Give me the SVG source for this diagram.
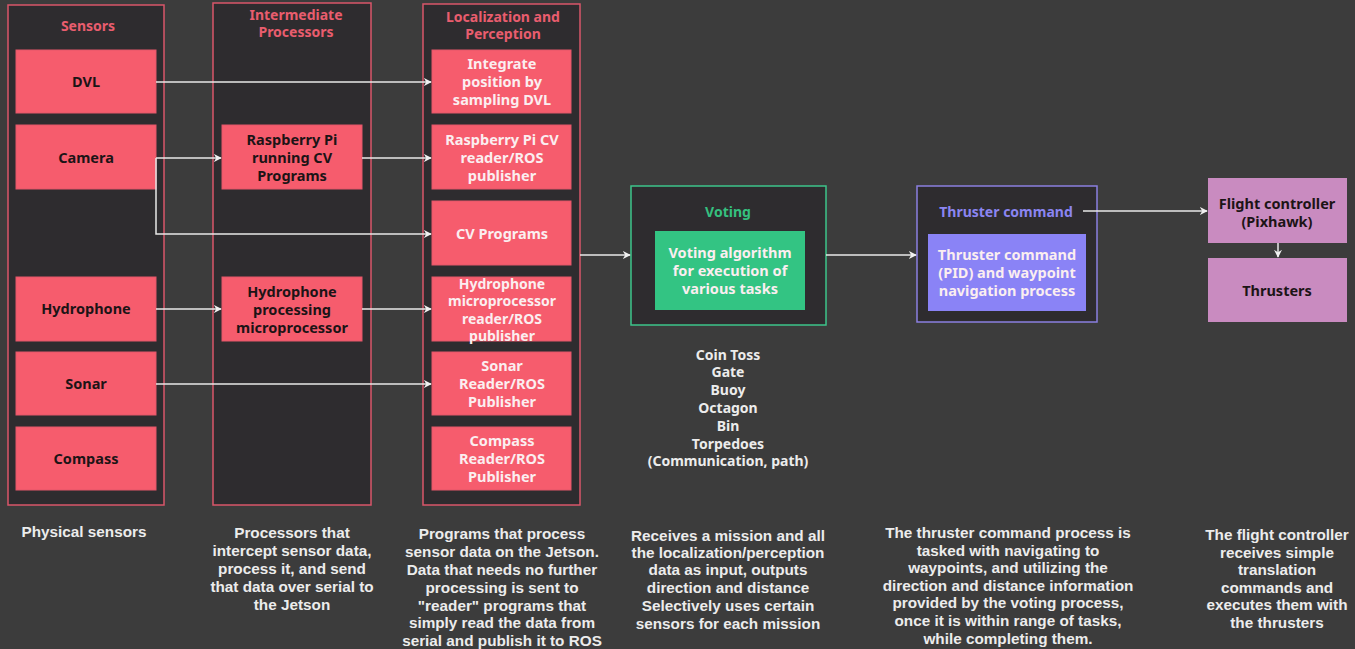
<svg xmlns="http://www.w3.org/2000/svg" width="1355" height="649" viewBox="0 0 1355 649">
<defs>
<style>
.bg{fill:#3c3c3c}
.col{fill:#2e2c2f;stroke:#d9566a;stroke-width:1.5}
.pk{fill:#f65c6d;stroke:#e4566a;stroke-width:1}
.ttl{font-family:"Noto Sans","Liberation Sans",sans-serif;font-weight:700;font-size:14px;text-anchor:middle;fill:#e95d6e}
.dk{font-family:"Noto Sans","Liberation Sans",sans-serif;font-weight:700;font-size:14.5px;text-anchor:middle;fill:#1c1416}
.wt{font-family:"Noto Sans","Liberation Sans",sans-serif;font-weight:700;font-size:14.5px;text-anchor:middle;fill:#fbeef0}
.wt4{font-family:"Noto Sans","Liberation Sans",sans-serif;font-weight:700;font-size:14px;text-anchor:middle;fill:#fbeef0}
.desc{font-family:"Liberation Sans",sans-serif;font-weight:700;font-size:15.3px;text-anchor:middle;fill:#ececec}
.list{font-family:"Noto Sans","Liberation Sans",sans-serif;font-weight:700;font-size:14px;text-anchor:middle;fill:#ececec}
.cn{fill:none;stroke:#e8e8e8;stroke-width:1.5}
</style>
<marker id="ah" viewBox="0 0 10 10" refX="9" refY="5" markerWidth="8" markerHeight="8" markerUnits="userSpaceOnUse" orient="auto">
<path d="M0,0 L10,5 L0,10 L3,5 z" fill="#f0f0f0"/>
</marker>
</defs>
<rect class="bg" x="0" y="0" width="1355" height="649"/>

<g id="sensors">
<rect class="col" x="8" y="5" width="156" height="500"/>
<text class="ttl" x="88" y="31">Sensors</text>
</g>
<g id="dvl"><rect class="pk" x="16" y="50" width="140" height="63"/><text class="dk" x="86" y="87">DVL</text></g>
<g id="camera"><rect class="pk" x="16" y="125" width="140" height="64"/><text class="dk" x="86" y="163">Camera</text></g>
<g id="hydrophone"><rect class="pk" x="16" y="277" width="140" height="64"/><text class="dk" x="86" y="314">Hydrophone</text></g>
<g id="sonar"><rect class="pk" x="16" y="352" width="140" height="63"/><text class="dk" x="86" y="389">Sonar</text></g>
<g id="compass"><rect class="pk" x="16" y="427" width="140" height="63"/><text class="dk" x="86" y="464">Compass</text></g>

<g id="intermediate">
<rect class="col" x="213" y="3" width="158" height="502"/>
<text class="ttl" x="296" y="20">Intermediate</text>
<text class="ttl" x="296" y="37">Processors</text>
</g>
<g id="rpi"><rect class="pk" x="222" y="125" width="140" height="64"/>
<text class="dk" x="292" y="145">Raspberry Pi</text><text class="dk" x="292" y="163">running CV</text><text class="dk" x="292" y="181">Programs</text></g>
<g id="hydroproc"><rect class="pk" x="222" y="277" width="140" height="64"/>
<text class="dk" x="292" y="297">Hydrophone</text><text class="dk" x="292" y="315">processing</text><text class="dk" x="292" y="333">microprocessor</text></g>

<g id="localization">
<rect class="col" x="423" y="4" width="157" height="501"/>
<text class="ttl" x="503" y="22">Localization and</text>
<text class="ttl" x="503" y="39">Perception</text>
</g>
<g id="integrate"><rect class="pk" x="432" y="50" width="139" height="63"/>
<text class="wt" x="502" y="69">Integrate</text><text class="wt" x="502" y="87">position by</text><text class="wt" x="502" y="105">sampling DVL</text></g>
<g id="rpireader"><rect class="pk" x="432" y="125" width="139" height="64"/>
<text class="wt" x="502" y="145">Raspberry Pi CV</text><text class="wt" x="502" y="163">reader/ROS</text><text class="wt" x="502" y="181">publisher</text></g>
<g id="cvprograms"><rect class="pk" x="432" y="201" width="139" height="64"/>
<text class="wt" x="502" y="239">CV Programs</text></g>
<g id="hydroreader"><rect class="pk" x="432" y="277" width="139" height="64"/>
<text class="wt4" x="502" y="289">Hydrophone</text><text class="wt4" x="502" y="306">microprocessor</text><text class="wt4" x="502" y="324">reader/ROS</text><text class="wt4" x="502" y="341">publisher</text></g>
<g id="sonarreader"><rect class="pk" x="432" y="352" width="139" height="63"/>
<text class="wt" x="502" y="371">Sonar</text><text class="wt" x="502" y="389">Reader/ROS</text><text class="wt" x="502" y="407">Publisher</text></g>
<g id="compassreader"><rect class="pk" x="432" y="427" width="139" height="63"/>
<text class="wt" x="502" y="446">Compass</text><text class="wt" x="502" y="464">Reader/ROS</text><text class="wt" x="502" y="482">Publisher</text></g>

<g id="voting">
<rect x="631" y="186" width="195" height="139" fill="#2e2c2f" stroke="#3cc48a" stroke-width="1.5"/>
<text class="ttl" x="728" y="217" style="fill:#35c07f">Voting</text>
<rect x="655" y="231" width="150" height="79" fill="#33c483"/>
<text class="wt" x="730" y="258">Voting algorithm</text><text class="wt" x="730" y="276">for execution of</text><text class="wt" x="730" y="294">various tasks</text>
</g>
<g id="tasks">
<text class="list" x="728" y="360">Coin Toss</text>
<text class="list" x="728" y="377">Gate</text>
<text class="list" x="728" y="395">Buoy</text>
<text class="list" x="728" y="413">Octagon</text>
<text class="list" x="728" y="431">Bin</text>
<text class="list" x="728" y="449">Torpedoes</text>
<text class="list" x="728" y="466">(Communication, path)</text>
</g>

<g id="thruster">
<rect x="917" y="186" width="180" height="136" fill="#2e2c2f" stroke="#8a7fe0" stroke-width="1.5"/>
<text class="ttl" x="1006" y="217" style="fill:#8b85f2">Thruster command</text>
<rect x="928" y="234" width="158" height="77" fill="#8a83f6"/>
<text class="wt" x="1007" y="260">Thruster command</text><text class="wt" x="1007" y="278">(PID) and waypoint</text><text class="wt" x="1007" y="296">navigation process</text>
</g>

<g id="flightcontroller"><rect x="1208" y="178" width="139" height="65" fill="#c98bc0"/>
<text class="dk" x="1277" y="209">Flight controller</text><text class="dk" x="1277" y="227">(Pixhawk)</text></g>
<g id="thrusters"><rect x="1208" y="258" width="139" height="64" fill="#c98bc0"/>
<text class="dk" x="1277" y="296">Thrusters</text></g>

<g id="connectors">
<path class="cn" d="M156,82 H431" marker-end="url(#ah)"/>
<path class="cn" d="M156,158 H221" marker-end="url(#ah)"/>
<path class="cn" d="M156,158 V234 H431" marker-end="url(#ah)"/>
<path class="cn" d="M362,158 H431" marker-end="url(#ah)"/>
<path class="cn" d="M156,309 H221" marker-end="url(#ah)"/>
<path class="cn" d="M362,309 H431" marker-end="url(#ah)"/>
<path class="cn" d="M156,384 H431" marker-end="url(#ah)"/>
<path class="cn" d="M580,255 H630" marker-end="url(#ah)"/>
<path class="cn" d="M826,255 H916" marker-end="url(#ah)"/>
<path class="cn" d="M1083,211 H1207" marker-end="url(#ah)"/>
<path class="cn" d="M1278,243 V257" marker-end="url(#ah)"/>
</g>

<g id="descriptions">
<text class="desc" x="84" y="537">Physical sensors</text>
<text class="desc" x="292" y="538">Processors that</text>
<text class="desc" x="292" y="556">intercept sensor data,</text>
<text class="desc" x="292" y="574">process it, and send</text>
<text class="desc" x="292" y="592">that data over serial to</text>
<text class="desc" x="292" y="610">the Jetson</text>
<text class="desc" x="502" y="539">Programs that process</text>
<text class="desc" x="502" y="557">sensor data on the Jetson.</text>
<text class="desc" x="502" y="575">Data that needs no further</text>
<text class="desc" x="502" y="593">processing is sent to</text>
<text class="desc" x="502" y="611">"reader" programs that</text>
<text class="desc" x="502" y="628">simply read the data from</text>
<text class="desc" x="502" y="646">serial and publish it to ROS</text>
<text class="desc" x="728" y="541">Receives a mission and all</text>
<text class="desc" x="728" y="558">the localization/perception</text>
<text class="desc" x="728" y="575">data as input, outputs</text>
<text class="desc" x="728" y="593">direction and distance</text>
<text class="desc" x="728" y="611">Selectively uses certain</text>
<text class="desc" x="728" y="629">sensors for each mission</text>
<text class="desc" x="1008" y="538">The thruster command process is</text>
<text class="desc" x="1008" y="556">tasked with navigating to</text>
<text class="desc" x="1008" y="573">waypoints, and utilizing the</text>
<text class="desc" x="1008" y="591">direction and distance information</text>
<text class="desc" x="1008" y="608">provided by the voting process,</text>
<text class="desc" x="1008" y="626">once it is within range of tasks,</text>
<text class="desc" x="1008" y="644">while completing them.</text>
<text class="desc" x="1277" y="540">The flight controller</text>
<text class="desc" x="1277" y="558">receives simple</text>
<text class="desc" x="1277" y="575">translation</text>
<text class="desc" x="1277" y="593">commands and</text>
<text class="desc" x="1277" y="610">executes them with</text>
<text class="desc" x="1277" y="628">the thrusters</text>
</g>
</svg>
